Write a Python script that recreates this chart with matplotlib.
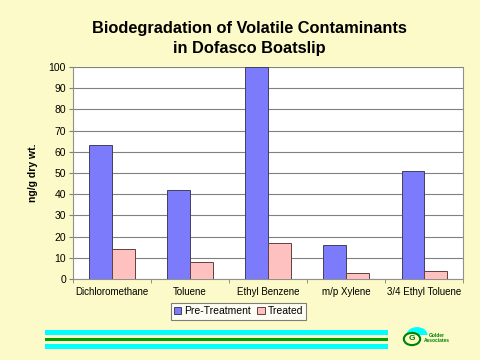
import numpy as np
import matplotlib.pyplot as plt
from matplotlib.patches import Rectangle, Circle, Wedge

plt.rcParams['font.family'] = ['Liberation Sans', 'DejaVu Sans']

categorias = ['Dichloromethane', 'Toluene', 'Ethyl Benzene', 'm/p Xylene',
              '3/4 Ethyl Toluene']
pre_tratamiento = [63, 42, 100, 16, 51]
tratado = [14, 8, 17, 3, 4]

fondo = '#fbfac8'
azul = '#7b7bfb'
rosa = '#ffc0c0'

fig = plt.figure(figsize=(4.8, 3.6), dpi=100, facecolor=fondo)
ax = fig.add_axes([0.152, 0.225, 0.813, 0.589])
ax.set_facecolor('white')

x = np.arange(len(categorias))
ancho = 0.29
ax.bar(x - ancho / 2, pre_tratamiento, ancho, color=azul, edgecolor='#404060',
       linewidth=0.7, label='Pre-Treatment', zorder=3)
ax.bar(x + ancho / 2, tratado, ancho, color=rosa, edgecolor='#604040',
       linewidth=0.7, label='Treated', zorder=3)

ax.set_xlim(-0.5, len(categorias) - 0.5)
ax.set_ylim(0, 100)
ax.set_yticks(range(0, 101, 10))
ax.yaxis.grid(True, color='#808080', linewidth=0.8, zorder=0)
ax.set_xticks(x)
ax.set_xticklabels(categorias, fontsize=7)
ax.set_xticks(np.arange(-0.5, len(categorias)), minor=True)
ax.tick_params(axis='x', which='major', length=0, pad=6)
ax.tick_params(axis='x', which='minor', length=3, color='#808080')
ax.tick_params(axis='y', labelsize=7.5, length=3, color='#808080', pad=2)
for lado in ['left', 'bottom', 'right', 'top']:
    ax.spines[lado].set_color('#909090')
    ax.spines[lado].set_linewidth(0.8)
ax.spines['top'].set_visible(False)

ax.set_ylabel('ng/g dry wt.', fontsize=7.5, fontweight='bold', labelpad=8)

fig.text(0.52, 0.893, 'Biodegradation of Volatile Contaminants\nin Dofasco Boatslip',
         ha='center', va='center', fontsize=11.8, fontweight='bold',
         linespacing=1.45)

ley = fig.legend(loc='center', bbox_to_anchor=(0.497, 0.135), ncol=2,
                 fontsize=7.5, frameon=True, fancybox=False, edgecolor='#606060',
                 handlelength=0.7, handleheight=0.7, handletextpad=0.3,
                 columnspacing=0.6, borderpad=0.3, borderaxespad=0)
ley.get_frame().set_linewidth(0.8)

# franjas decorativas de la diapositiva
W, H = 480, 360
for y0, alto, color in [(330, 5, '#00ffff'), (337.5, 3.5, '#00a000'),
                        (344, 4.5, '#00ffff')]:
    fig.add_artist(Rectangle((45 / W, 1 - (y0 + alto) / H), 343 / W, alto / H,
                             transform=fig.transFigure, color=color, lw=0))

# logo
fig.add_artist(Wedge((417 / W, 1 - 335 / H), 0.022, 0, 180,
                     transform=fig.transFigure, color='#00ffff', lw=0))
fig.add_artist(Circle((412 / W, 1 - 339 / H), 0.017, transform=fig.transFigure,
                      facecolor=fondo, edgecolor='#008000', lw=1.5))
fig.text(412 / W, 1 - 339 / H, 'G', ha='center', va='center', fontsize=6,
         color='#008000', fontweight='bold')
fig.text(437 / W, 1 - 338 / H, 'Golder\nAssociates', ha='center', va='center',
         fontsize=3.5, color='#008000', fontweight='bold', linespacing=0.9)

fig.savefig('out.png', dpi=100, facecolor=fondo)
